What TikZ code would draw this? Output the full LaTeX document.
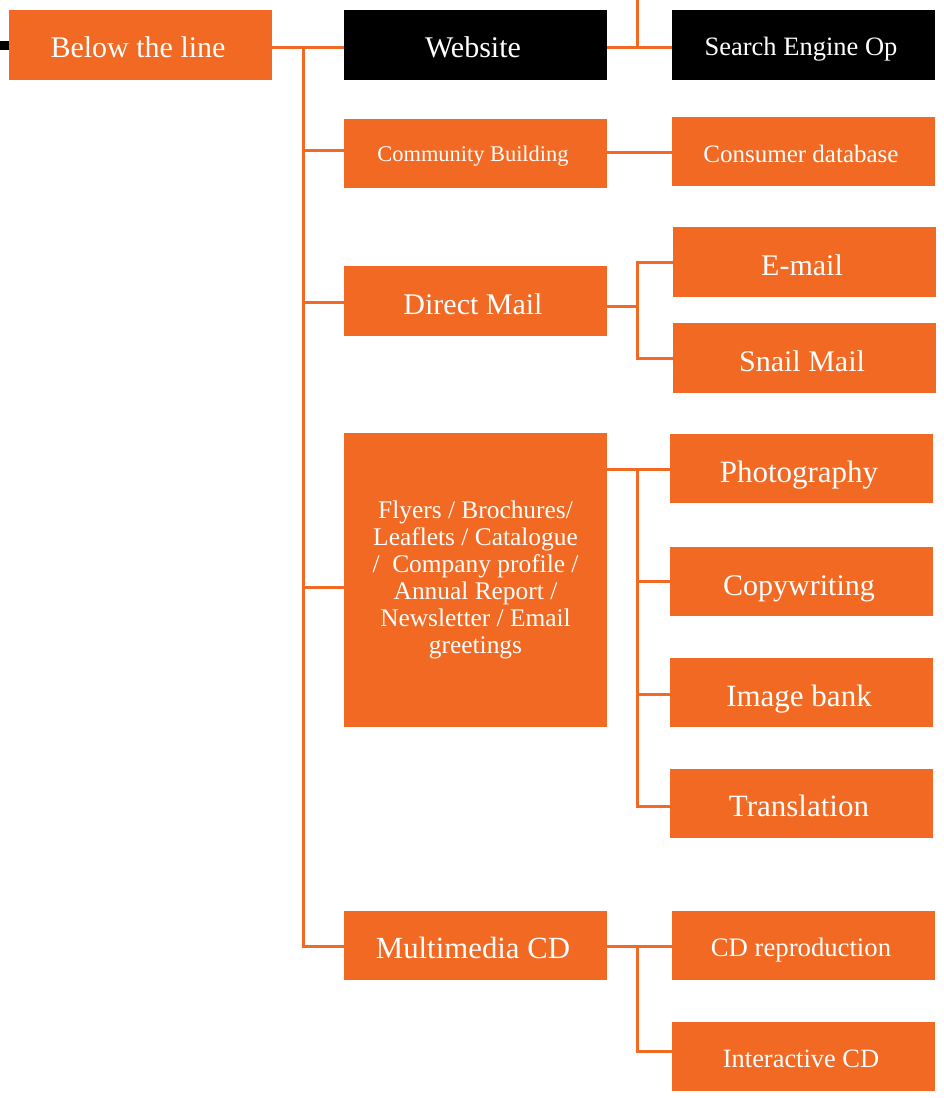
\documentclass[tikz,border=0pt]{standalone}
\usepackage{fontspec}
\setmainfont{Liberation Serif}
\definecolor{brand}{HTML}{F26923}
\begin{document}
\begin{tikzpicture}[x=1pt,y=-1pt,
  box/.style={fill=brand, text=white, minimum width=263pt, minimum height=70pt, inner sep=0pt, align=center, font=\fontsize{30}{36}\selectfont},
  txt/.style={text height=#1, text depth=0pt, execute at end node={\kern5pt}},
  dark/.style={box, fill=black},
  link/.style={draw=brand, line width=3pt}]
\useasboundingbox (0,0) rectangle (944,1098);
% nodes
\node[box, txt=24.5pt]  (btl)   at (140.5,45)   {Below the line};
\node[dark, txt=24.5pt] (web)   at (475.5,45)   {Website};
\node[dark, txt=20.4pt, font=\fontsize{26.5}{32}\selectfont] (seo) at (803.5,45) {Search Engine Op};
\node[box, txt=16.4pt, minimum height=69pt, font=\fontsize{22.4}{27}\selectfont] (cb) at (475.5,153.5) {Community Building};
\node[box, txt=21pt, minimum height=69pt, font=\fontsize{25}{30}\selectfont] (cdb) at (803.5,151.5) {Consumer database};
\node[box, txt=26.5pt]  (dm)    at (475.5,301)  {Direct Mail};
\node[box, txt=26.5pt]  (email) at (804.5,262)  {E-mail};
\node[box, txt=26.5pt]  (snail) at (804.5,358)  {Snail Mail};
\node[box, minimum height=294pt, font=\fontsize{25.4}{27}\selectfont] (fly) at (475.5,580)
  {Flyers / Brochures/\\Leaflets / Catalogue\\/\ \ Company profile /\\Annual Report /\\Newsletter / Email\\greetings};
\node[box, txt=28.4pt, minimum height=69pt, font=\fontsize{31}{36}\selectfont] (photo) at (801.5,468.5) {Photography};
\node[box, txt=28pt, minimum height=69pt] (copy)  at (801.5,581.5) {Copywriting};
\node[box, txt=28pt, minimum height=69pt, font=\fontsize{31}{36}\selectfont] (img)   at (801.5,692.5) {Image bank};
\node[box, txt=26.5pt, minimum height=69pt, font=\fontsize{31}{36}\selectfont] (trans) at (801.5,803.5) {Translation};
\node[box, txt=26.6pt, minimum height=69pt, font=\fontsize{30.8}{36}\selectfont] (mcd) at (475.5,945.5) {Multimedia CD};
\node[box, txt=22.4pt, minimum height=69pt, font=\fontsize{26.7}{32}\selectfont] (cdr) at (803.5,945.5) {CD reproduction};
\node[box, txt=22pt, minimum height=69pt, font=\fontsize{26.4}{32}\selectfont] (icd) at (803.5,1056.5) {Interactive CD};
% coordinates
\coordinate (leftend) at (0,45);
\coordinate (trunk) at (303,47);
\coordinate (topj) at (637,0);
\coordinate (dmj) at (637,306);
\coordinate (flyj) at (637,469.3);
\coordinate (mcdj) at (637,946.7);
% connectors
\draw[black, line width=9pt] (leftend) -- (btl.west);
\draw[link] ([yshift=-2pt]btl.east) -- ([yshift=-2pt]web.west);
\draw[link] (trunk) |- ([yshift=3.5pt]cb.west);
\draw[link] (trunk) |- ([yshift=-1pt]dm.west);
\draw[link] (trunk) |- ([yshift=-7pt]fly.west);
\draw[link] (trunk) |- ([yshift=-1.2pt]mcd.west);
\draw[link] ([yshift=-2pt]web.east) -- ([yshift=-2pt]seo.west);
\draw[link] (topj) -- ([yshift=-2pt]topj |- seo.west);
\draw[link] ([yshift=1.2pt]cb.east) -- ([yshift=1.2pt]cb.east -| cdb.west);
\draw[link] (dm.east |- dmj) -- (dmj);
\draw[link] (email.west) -| (dmj) |- (snail.west);
\draw[link] (photo.west |- flyj) -- (fly.east |- flyj);
\draw[link] (flyj) |- (copy.west);
\draw[link] (flyj) |- ([yshift=-1.8pt]img.west);
\draw[link] (flyj) |- ([yshift=-3.2pt]trans.west);
\draw[link] (mcd.east |- mcdj) -- (cdr.west |- mcdj);
\draw[link] (mcdj) |- ([yshift=5.5pt]icd.west);
\end{tikzpicture}
\end{document}
